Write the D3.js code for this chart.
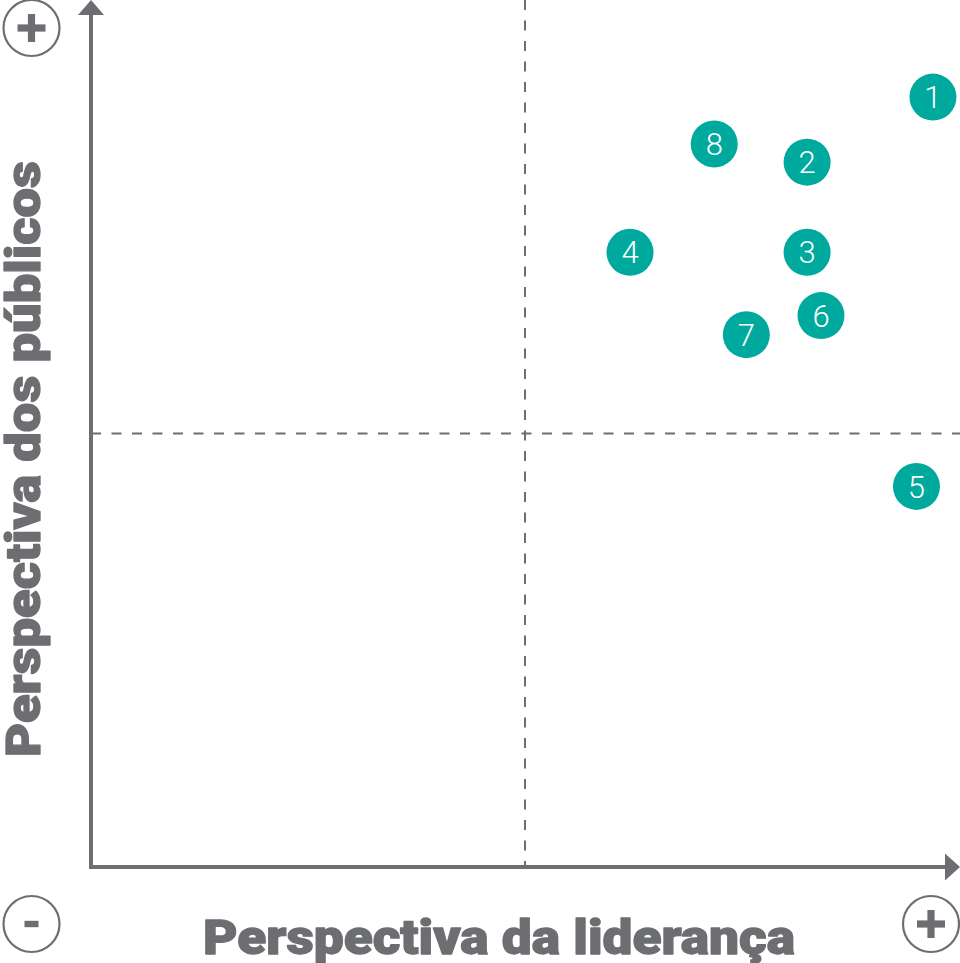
<!DOCTYPE html>
<html>
<head>
<meta charset="utf-8">
<script src="https://cdn.jsdelivr.net/npm/d3@7"></script>
<style>
  html, body { margin: 0; padding: 0; background: #fff; }
  svg { display: block; }
</style>
</head>
<body>
<svg id="chart" width="960" height="963"></svg>
<script>
// ---- data ----
const labels = ["1", "2", "3", "4", "5", "6", "7", "8"];
const leadership = [9.70, 8.25, 8.25, 6.21, 9.51, 8.41, 7.55, 7.18];   // x: Perspectiva da liderança
const publics    = [8.88, 8.13, 7.09, 7.09, 4.39, 6.36, 6.14, 8.34];   // y: Perspectiva dos públicos
const domainX = [0, 10];
const domainY = [0, 10];
const midX = 5, midY = 5;
const xTitle = "Perspectiva da liderança";
const yTitle = "Perspectiva dos públicos";

const gray = "#6d6e71";
const teal = "#00a99d";

const svg = d3.select("#chart");
const x = d3.scaleLinear().domain(domainX).range([91, 959]);
const y = d3.scaleLinear().domain(domainY).range([867, 0]);

// dashed quadrant lines
svg.append("line")
  .attr("x1", x(midX)).attr("x2", x(midX))
  .attr("y1", y(domainY[1])).attr("y2", y(domainY[0]))
  .attr("stroke", gray).attr("stroke-width", 2).attr("stroke-dasharray", "10,10.5");
svg.append("line")
  .attr("x1", x(domainX[0])).attr("x2", 960)
  .attr("y1", y(midY)).attr("y2", y(midY))
  .attr("stroke", gray).attr("stroke-width", 2).attr("stroke-dasharray", "10,10.5");

// axes
const x0 = x(domainX[0]), y0 = y(domainY[0]);
svg.append("path")
  .attr("d", `M${x0},15 L${x0},${y0} L945,${y0}`)
  .attr("fill", "none").attr("stroke", gray).attr("stroke-width", 4)
  .attr("stroke-linejoin", "miter").attr("stroke-linecap", "square");
// arrowheads
svg.append("path")
  .attr("d", `M${x0},0 L${x0 + 13},15 L${x0 - 13},15 Z`)
  .attr("fill", gray);
svg.append("path")
  .attr("d", `M960,${y0} L945,${y0 - 13.5} L945,${y0 + 13.5} Z`)
  .attr("fill", gray);

// +/- markers
function signCircle(cx, cy, plus) {
  const g = svg.append("g").attr("transform", `translate(${cx},${cy})`);
  g.append("circle").attr("r", 28).attr("fill", "none").attr("stroke", gray).attr("stroke-width", 2.2);
  if (plus) {
    g.append("rect").attr("x", -14).attr("y", -3.6).attr("width", 28).attr("height", 7.2).attr("fill", gray);
    g.append("rect").attr("x", -3.6).attr("y", -14).attr("width", 7.2).attr("height", 28).attr("fill", gray);
  } else {
    g.append("rect").attr("x", -7).attr("y", -3.2).attr("width", 14).attr("height", 6.4).attr("fill", gray);
  }
}
signCircle(31.5, 28, true);
signCircle(31.5, 924, false);
signCircle(931, 924, true);

// axis titles (heavy grotesque look: bold + stroke, stretched to the reference width)
function heavyTitle(sel, len) {
  sel.attr("text-anchor", "middle")
    .attr("font-family", "Roboto, 'Liberation Sans', sans-serif")
    .attr("font-weight", 900).attr("font-size", 48)
    .attr("fill", gray).attr("stroke", gray).attr("stroke-width", 1.3)
    .attr("stroke-linejoin", "round")
    .attr("textLength", len).attr("lengthAdjust", "spacingAndGlyphs");
}
svg.append("text")
  .attr("x", 499).attr("y", 954)
  .call(heavyTitle, 592)
  .text(xTitle);
svg.append("text")
  .attr("transform", "translate(40,459) rotate(-90)")
  .call(heavyTitle, 596)
  .text(yTitle);

// points
const pts = labels.map((l, i) => ({ label: l, vx: leadership[i], vy: publics[i] }));
const g = svg.append("g").selectAll("g").data(pts).join("g")
  .attr("transform", d => `translate(${x(d.vx)},${y(d.vy)})`);
g.append("circle").attr("r", 23.5).attr("fill", teal);
g.append("text")
  .attr("text-anchor", "middle").attr("dy", "0.36em")
  .attr("font-family", "Roboto, sans-serif").attr("font-weight", 300)
  .attr("font-size", 31).attr("fill", "#fff")
  .text(d => d.label);
</script>
</body>
</html>
